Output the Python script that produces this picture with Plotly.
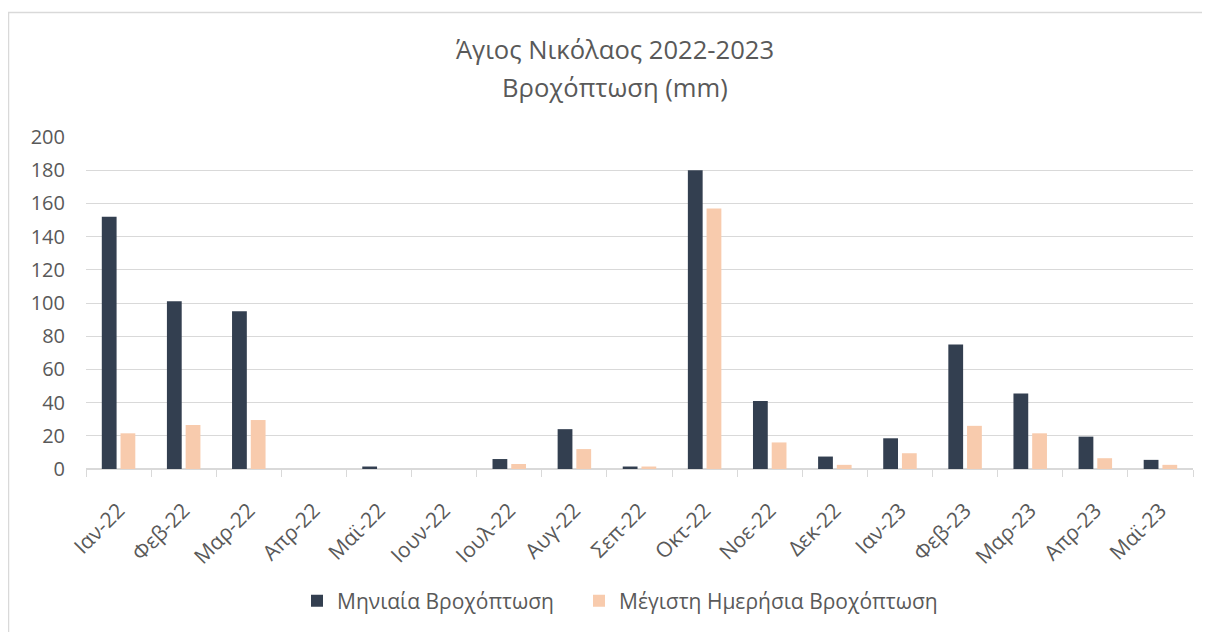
import plotly.graph_objects as go

months = ["Ιαν-22", "Φεβ-22", "Μαρ-22", "Απρ-22", "Μαϊ-22", "Ιουν-22", "Ιουλ-22",
          "Αυγ-22", "Σεπ-22", "Οκτ-22", "Νοε-22", "Δεκ-22", "Ιαν-23", "Φεβ-23",
          "Μαρ-23", "Απρ-23", "Μαϊ-23"]
monthly_rain = [152, 101, 95, 0, 1.5, 0, 6, 24, 1.5, 180, 41, 7.5, 18.5, 75, 45.5, 19.5, 5.5]
max_daily_rain = [21.5, 26.5, 29.5, 0, 0, 0, 3, 12, 1.5, 157, 16, 2.5, 9.5, 26, 21.5, 6.5, 2.5]

series_names = ["Μηνιαία Βροχόπτωση", "Μέγιστη Ημερήσια Βροχόπτωση"]
colors = ["#333F50", "#F8CBAD"]
y_ticks = list(range(0, 201, 20))
title_lines = ["Άγιος Νικόλαος 2022-2023", "Βροχόπτωση (mm)"]

txt = "#595959"
grid = "#D9D9D9"
font_family = "Open Sans, Noto Sans, sans-serif"

# page body has an 8px margin; figure coords = screen coords - 8
W, H = 1202, 624
L, R, T, B = 78, 17, 129, 163
PW, PH = W - L - R, H - T - B

fig = go.Figure()
fig.add_trace(go.Bar(x=months, y=monthly_rain, name=series_names[0], legend="legend",
                     marker=dict(color=colors[0], line=dict(width=0))))
fig.add_trace(go.Bar(x=months, y=max_daily_rain, name=series_names[1], legend="legend2",
                     marker=dict(color=colors[1], line=dict(width=0))))

legend_common = dict(orientation="h", xanchor="left", yref="paper", yanchor="middle",
                     y=(H - B - 593) / PH, font=dict(size=21, color=txt, family=font_family),
                     itemwidth=30, bgcolor="rgba(0,0,0,0)", borderwidth=0)

fig.update_layout(
    width=W, height=H,
    paper_bgcolor="white", plot_bgcolor="white",
    margin=dict(l=L, r=R, t=T, b=B, autoexpand=False),
    barmode="group", bargap=0.425, bargroupgap=0.21,
    font=dict(family=font_family, color=txt, size=20),
    title=dict(text=title_lines[0],
               x=607/W, xanchor="center", y=1-42/H, yanchor="middle",
               font=dict(size=25.6, color=txt, family=font_family)),
    annotations=[dict(text=title_lines[1], xref="paper", yref="paper",
                      x=(607-L)/PW, y=(H-B-80)/PH, xanchor="center", yanchor="middle",
                      showarrow=False, font=dict(size=25.6, color=txt, family=font_family))],
    showlegend=True,
    legend=dict(x=(289 - L) / PW, **legend_common),
    legend2=dict(x=(571 - L) / PW, **legend_common),
    xaxis=dict(type="category", tickangle=-45, showgrid=False,
               showline=True, linecolor=grid, linewidth=1,
               ticks="outside", tickson="boundaries", ticklen=7, tickcolor=grid,
               tickfont=dict(size=21, color=txt), ticklabelstandoff=20),
    yaxis=dict(range=[0, 200], tickvals=y_ticks, showgrid=True, gridcolor=grid,
               gridwidth=1, zeroline=True, zerolinecolor=grid, showline=False,
               ticks="", tickfont=dict(size=20, color=txt), ticklabelstandoff=20),
    shapes=[dict(type="rect", xref="paper", yref="paper",
                 x0=(0.5-L)/PW, x1=(W+20-L)/PW,
                 y0=(H-B-(H+30))/PH, y1=(H-B-4.5)/PH,
                 line=dict(color=grid, width=1.5), fillcolor="rgba(0,0,0,0)",
                 layer="below")],
)

fig.write_html("out.html")
